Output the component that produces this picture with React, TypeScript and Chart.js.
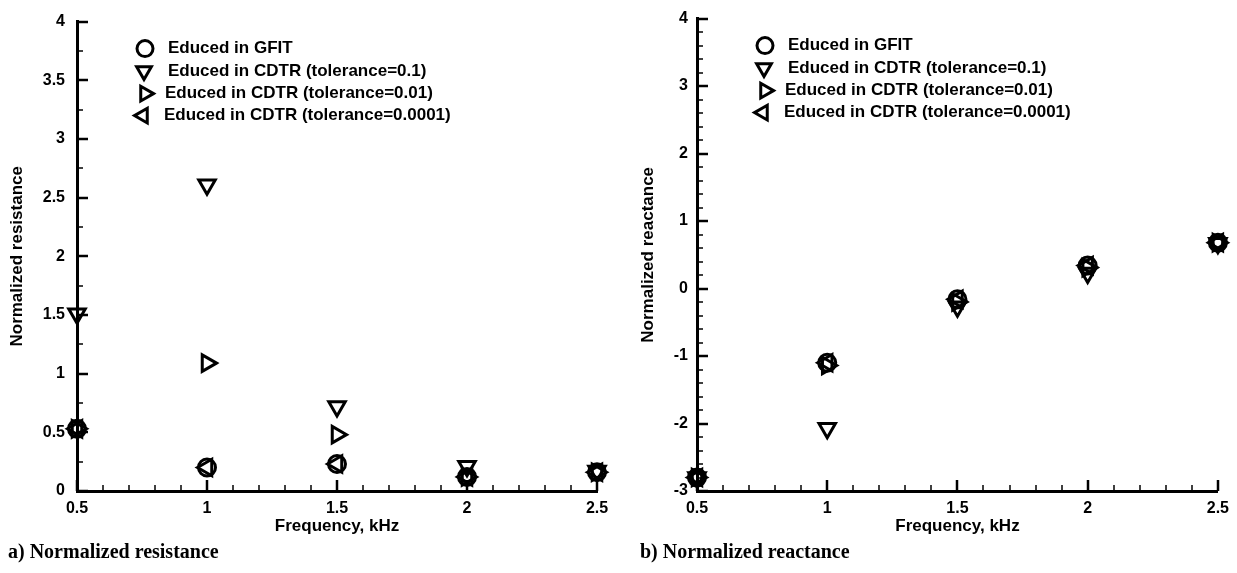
import React, { useEffect, useRef } from "react";
import { Chart, registerables } from "chart.js";

Chart.register(...registerables);

// ---------- data ----------
const frequencies = [0.5, 1, 1.5, 2, 2.5];

const seriesLabels = [
  "Educed in GFIT",
  "Educed in CDTR (tolerance=0.1)",
  "Educed in CDTR (tolerance=0.01)",
  "Educed in CDTR (tolerance=0.0001)",
];

const resistanceGFIT = [0.53, 0.2, 0.23, 0.12, 0.16];
const resistanceTol01 = [1.51, 2.61, 0.72, 0.21, 0.17];
const resistanceTol001 = [0.53, 1.09, 0.48, 0.12, 0.16];
const resistanceTol00001 = [0.53, 0.2, 0.23, 0.12, 0.16];

const reactanceGFIT = [-2.8, -1.1, -0.16, 0.34, 0.68];
const reactanceTol01 = [-2.8, -2.07, -0.27, 0.23, 0.67];
const reactanceTol001 = [-2.8, -1.14, -0.2, 0.31, 0.68];
const reactanceTol00001 = [-2.8, -1.1, -0.16, 0.34, 0.68];

const xTickValues = [0.5, 1, 1.5, 2, 2.5];
const resistanceTickValues = [0, 0.5, 1, 1.5, 2, 2.5, 3, 3.5, 4];
const reactanceTickValues = [-3, -2, -1, 0, 1, 2, 3, 4];

const markerStyles = [
  { style: "circle", rotation: 0 },
  { style: "triangle", rotation: 180 },
  { style: "triangle", rotation: 90 },
  { style: "triangle", rotation: 270 },
];

const SANS = "'Liberation Sans', Arial, Helvetica, sans-serif";
const SERIF = "'Liberation Serif', 'Times New Roman', serif";

// ---------- plugins ----------
function drawMarker(ctx: CanvasRenderingContext2D, style: string, rotation: number, x: number, y: number, r: number) {
  ctx.beginPath();
  if (style === "circle") {
    ctx.arc(x, y, r, 0, Math.PI * 2);
  } else {
    let rad = (rotation * Math.PI) / 180;
    ctx.moveTo(x + Math.sin(rad) * r, y - Math.cos(rad) * r);
    rad += (2 * Math.PI) / 3;
    ctx.lineTo(x + Math.sin(rad) * r, y - Math.cos(rad) * r);
    rad += (2 * Math.PI) / 3;
    ctx.lineTo(x + Math.sin(rad) * r, y - Math.cos(rad) * r);
    ctx.closePath();
  }
  ctx.stroke();
}

const insideTicks = {
  id: "insideTicks",
  beforeDatasetsDraw(chart: any, _args: any, opts: any) {
    const { ctx, chartArea } = chart;
    const xs = chart.scales.x;
    const ys = chart.scales.y;
    ctx.save();
    ctx.strokeStyle = "#000";
    const isMajor = (v: number, majors: number[]) => majors.some((m) => Math.abs(m - v) < 1e-6);
    const xSteps = Math.round((xs.max - xs.min) / opts.xMinor);
    for (let i = 0; i <= xSteps; i++) {
      const v = xs.min + i * opts.xMinor;
      const major = isMajor(v, opts.xMajor);
      const px = Math.round(xs.getPixelForValue(v));
      ctx.lineWidth = major ? 2.5 : 1.5;
      ctx.beginPath();
      ctx.moveTo(px, chartArea.bottom);
      ctx.lineTo(px, chartArea.bottom - (major ? 11 : 6));
      ctx.stroke();
    }
    const ySteps = Math.round((ys.max - ys.min) / opts.yMinor);
    for (let i = 0; i <= ySteps; i++) {
      const v = ys.min + i * opts.yMinor;
      const major = isMajor(v, opts.yMajor);
      const py = Math.round(ys.getPixelForValue(v));
      ctx.lineWidth = major ? 2.5 : 1.5;
      ctx.beginPath();
      ctx.moveTo(chartArea.left, py);
      ctx.lineTo(chartArea.left + (major ? 11 : 6), py);
      ctx.stroke();
    }
    ctx.restore();
  },
};

const innerLegend = {
  id: "innerLegend",
  afterDraw(chart: any, _args: any, opts: any) {
    const { ctx, chartArea } = chart;
    ctx.save();
    ctx.strokeStyle = "#000";
    ctx.lineWidth = 3;
    ctx.fillStyle = "#000";
    ctx.font = `bold ${opts.fontSize}px ${SANS}`;
    ctx.textBaseline = "middle";
    ctx.textAlign = "left";
    chart.data.datasets.forEach((ds: any, i: number) => {
      const y = chartArea.top + opts.rows[i];
      drawMarker(ctx, ds.pointStyle, ds.pointRotation, chartArea.left + opts.markerX[i], y, i === 0 ? 8 : 8.5);
      ctx.fillText(ds.label, chartArea.left + opts.textX[i], y);
    });
    ctx.restore();
  },
};

// ---------- chart config ----------
type PlotCfg = {
  left: number;
  width: number;
  height: number;
  series: number[][];
  yMin: number;
  yMax: number;
  yTicks: number[];
  yMinor: number;
  yTitle: string;
  yTitlePad: number;
  yTickPad: number;
  padTop: number;
  padRight: number;
};

function buildConfig(cfg: PlotCfg): any {
  const datasets = seriesLabels.map((label, i) => ({
    label,
    data: frequencies.map((f, j) => ({ x: f, y: cfg.series[i][j] })),
    showLine: false,
    pointStyle: markerStyles[i].style,
    pointRotation: markerStyles[i].rotation,
    pointRadius: i === 0 ? 8.5 : 9.5,
    pointHoverRadius: i === 0 ? 8.5 : 9.5,
    pointBorderWidth: 3,
    pointBorderColor: "#000",
    pointBackgroundColor: "rgba(0,0,0,0)",
    clip: false,
  }));
  const tickFont = { family: SANS, size: 16, weight: "bold" };
  const titleFont = { family: SANS, size: 17, weight: "bold" };
  return {
    type: "scatter",
    data: { datasets },
    options: {
      responsive: false,
      animation: false,
      devicePixelRatio: 1,
      events: [],
      layout: { padding: { top: cfg.padTop, right: cfg.padRight, bottom: 3, left: 0 } },
      plugins: {
        legend: { display: false },
        tooltip: { enabled: false },
        insideTicks: { xMajor: xTickValues, xMinor: 0.1, yMajor: cfg.yTicks, yMinor: cfg.yMinor },
        innerLegend: {
          fontSize: 17,
          markerX: [68, 67, 68, 66],
          textX: [91, 91, 88, 87],
          rows: [27, 49.5, 72, 94],
        },
      },
      scales: {
        x: {
          type: "linear",
          min: 0.5,
          max: 2.5,
          afterBuildTicks: (s: any) => {
            s.ticks = xTickValues.map((v) => ({ value: v }));
          },
          afterFit: (s: any) => {
            s.height = 46;
          },
          grid: { display: true, drawOnChartArea: false, drawTicks: false },
          border: { display: true, color: "#000", width: 3 },
          ticks: {
            color: "#000",
            font: tickFont,
            padding: 8,
            maxRotation: 0,
            autoSkip: false,
            callback: (v: any) => String(v),
          },
          title: {
            display: true,
            text: "Frequency, kHz",
            color: "#000",
            font: titleFont,
            padding: { top: 0, bottom: 0 },
          },
        },
        y: {
          type: "linear",
          min: cfg.yMin,
          max: cfg.yMax,
          afterBuildTicks: (s: any) => {
            s.ticks = cfg.yTicks.map((v) => ({ value: v }));
          },
          afterFit: (s: any) => {
            s.width = 77;
          },
          grid: { display: true, drawOnChartArea: false, drawTicks: false },
          border: { display: true, color: "#000", width: 3 },
          ticks: {
            color: "#000",
            font: tickFont,
            padding: cfg.yTickPad,
            autoSkip: false,
            callback: (v: any) => String(v),
          },
          title: {
            display: true,
            text: cfg.yTitle,
            color: "#000",
            font: titleFont,
            padding: { top: cfg.yTitlePad, bottom: 0 },
          },
        },
      },
    },
    plugins: [insideTicks, innerLegend],
  };
}

function Plot({ cfg }: { cfg: PlotCfg }) {
  const ref = useRef<HTMLCanvasElement>(null);
  useEffect(() => {
    const chart = new Chart(ref.current as HTMLCanvasElement, buildConfig(cfg));
    return () => chart.destroy();
  }, []);
  return (
    <canvas
      ref={ref}
      width={cfg.width}
      height={cfg.height}
      style={{ position: "absolute", left: cfg.left, top: 0, width: cfg.width, height: cfg.height }}
    />
  );
}

const resistanceCfg: PlotCfg = {
  left: 0,
  width: 620,
  height: 540,
  series: [resistanceGFIT, resistanceTol01, resistanceTol001, resistanceTol00001],
  yMin: 0,
  yMax: 4,
  yTicks: resistanceTickValues,
  yMinor: 0.25,
  yTitle: "Normalized resistance",
  yTitlePad: 7,
  yTickPad: 12,
  padTop: 16,
  padRight: 23,
};

const reactanceCfg: PlotCfg = {
  left: 620,
  width: 617,
  height: 540,
  series: [reactanceGFIT, reactanceTol01, reactanceTol001, reactanceTol00001],
  yMin: -3,
  yMax: 4,
  yTicks: reactanceTickValues,
  yMinor: 0.2,
  yTitle: "Normalized reactance",
  yTitlePad: 18,
  yTickPad: 9,
  padTop: 17,
  padRight: 19,
};

export default function App() {
  const captionStyle: React.CSSProperties = {
    position: "absolute",
    top: 539,
    fontFamily: SERIF,
    fontWeight: "bold",
    fontSize: 20,
    lineHeight: "24px",
    color: "#000",
    whiteSpace: "nowrap",
  };
  return (
    <div style={{ position: "absolute", left: 0, top: 0, width: 1237, height: 573, background: "#fff", overflow: "hidden" }}>
      <Plot cfg={resistanceCfg} />
      <Plot cfg={reactanceCfg} />
      <div style={{ ...captionStyle, left: 8 }}>a) Normalized resistance</div>
      <div style={{ ...captionStyle, left: 640 }}>b) Normalized reactance</div>
    </div>
  );
}
